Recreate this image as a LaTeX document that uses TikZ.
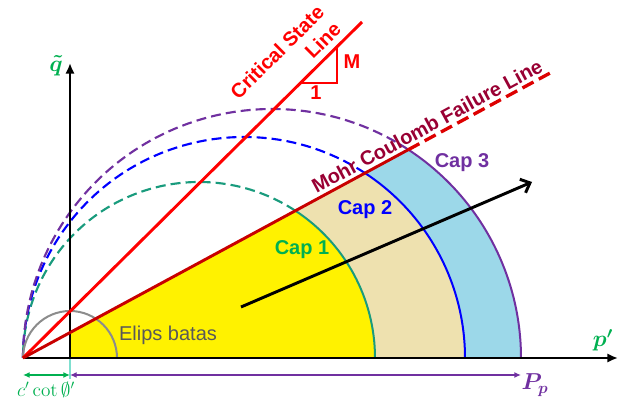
\documentclass[tikz,border=0pt]{standalone}
\usepackage{amsmath}
\usepackage[no-math]{fontspec}
\setmainfont{Liberation Sans}
\usetikzlibrary{arrows.meta,calc}
\definecolor{mygreen}{HTML}{00B050}
\definecolor{capgreen}{HTML}{199B7D}
\definecolor{myblue}{HTML}{0000FF}
\definecolor{mypurple}{HTML}{7030A0}
\definecolor{mymaroon}{HTML}{990033}
\definecolor{mcred}{HTML}{C80000}
\definecolor{mcdash}{HTML}{DD0000}
\definecolor{myred}{HTML}{FF0000}
\definecolor{yellowfill}{HTML}{FFF200}
\definecolor{beigefill}{HTML}{EEE1AF}
\definecolor{bluefill}{HTML}{9CD8E9}
\definecolor{arcgray}{HTML}{8C8C8C}
\definecolor{textgray}{HTML}{595959}
\definecolor{turq}{HTML}{7FDFCF}
\begin{document}
\begin{tikzpicture}[x=0.75pt,y=0.75pt,
  lbl/.style={font=\fontsize{15}{18}\selectfont\bfseries, inner sep=0pt},
  mlbl/.style={font=\fontsize{17.28}{20}\selectfont, inner sep=0pt},
  slbl/.style={font=\fontsize{14.4}{17}\selectfont, inner sep=0pt},
  capsolid/.style={line width=1.5pt},
  capdash/.style={line width=1.6pt, dash pattern=on 7.5pt off 3.8pt},
  axis/.style={line width=2.2pt, -{Latex[length=8pt,width=7pt]}},
  dim/.style={line width=1.1pt, {Latex[length=5pt,width=4.5pt]}-{Latex[length=5pt,width=4.5pt]}}]
\useasboundingbox (0,0) rectangle (625,401);
% key points
\coordinate (O) at (23,43);
\coordinate (Q0) at (70,43);
\coordinate (Qm) at (70,68.4);
\coordinate (C1) at (199,43);
\coordinate (C2) at (244,43);
\coordinate (C3) at (272,43);
\coordinate (P1) at ($(C1)+(56.8:176)$);
\coordinate (P2) at ($(C2)+(56.8:221)$);
\coordinate (P3) at ($(C3)+(56.8:249)$);
\coordinate (R1) at (375,43);
\coordinate (R2) at (465,43);
\coordinate (R3) at (521,43);
% fills
\fill[yellowfill] (Q0) -- (Qm) -- (P1) arc[start angle=56.8,end angle=0,radius=176] -- cycle;
\fill[beigefill] (P1) -- (P2) arc[start angle=56.8,end angle=0,radius=221] -- (R1) arc[start angle=0,end angle=56.8,radius=176] -- cycle;
\fill[bluefill] (P2) -- (P3) arc[start angle=56.8,end angle=0,radius=249] -- (R2) arc[start angle=0,end angle=56.8,radius=221] -- cycle;
% caps
\draw[capsolid,capgreen] (R1) arc[start angle=0,end angle=56.8,radius=176];
\draw[capdash,capgreen] (P1) arc[start angle=56.8,end angle=180,radius=176];
\draw[capsolid,myblue] (R2) arc[start angle=0,end angle=56.8,radius=221];
\draw[capdash,myblue] (P2) arc[start angle=56.8,end angle=180,radius=221];
\draw[capsolid,mypurple] (R3) arc[start angle=0,end angle=56.8,radius=249];
\draw[capdash,mypurple] (P3) arc[start angle=56.8,end angle=180,radius=249];
% elips batas
\draw[arcgray,line width=1.5pt] (O) arc[start angle=180,end angle=0,radius=47];
% axes
\coordinate (PX) at (618,43);
\coordinate (QY) at (70,338);
\coordinate (Qlow) at (70,22);
\draw[turq,line width=1.2pt] (Q0) -- (Qlow);
\draw[axis] (O) -- (PX);
\draw[axis] (Q0) -- (QY);
% critical state line
\coordinate (CSLend) at (362,379);
\draw[myred,line width=2.2pt] (O) -- (CSLend);
\coordinate (T1) at (302,318);
\coordinate (T2) at (337,318);
\coordinate (T3) at (337,354);
\draw[myred,line width=0.8pt] (T1) -- (T2) -- (T3);
% Mohr Coulomb
\coordinate (MCend) at (552,329);
\draw[mcred,line width=2.2pt] (O) -- (P3);
\draw[mcdash,line width=2.5pt,dash pattern=on 9.4pt off 4.5pt] (P3) -- (MCend);
% stress path arrow
\coordinate (A0) at (241,94);
\coordinate (A1) at (532,219);
\draw[line width=2.2pt,-{Straight Barb[length=6pt,width=11pt]}] (A0) -- (A1);
% dimension arrows
\coordinate (D0) at (23,26);
\coordinate (D1) at (70,26);
\coordinate (D2) at (521,26);
\draw[dim,mygreen] (D0) -- (D1);
\draw[dim,mypurple] (D1) -- (D2);
% labels
\node[mlbl,text=mygreen] (qlab) at (56,335) {$\boldsymbol{\tilde{q}}$};
\node[mlbl,text=mygreen] (plab) at (603,61) {$\boldsymbol{p'}$};
\node[mlbl,text=mypurple] (Pplab) at (535,16) {$\boldsymbol{P_p}$};
\node[slbl,text=mygreen] (clab) at (46,11) {$c'\cot\emptyset'$};
\node[font=\fontsize{15}{18}\selectfont, inner sep=0pt, text=textgray] (elab) at (168,66) {Elips batas};
\node[lbl,text=mygreen] (cap1) at (302,151) {Cap 1};
\node[lbl,text=myblue] (cap2) at (365,191) {Cap 2};
\node[lbl,text=mypurple] (cap3) at (462,238) {Cap 3};
\node[lbl,text=myred] (Mlab) at (352,339) {M};
\node[lbl,text=myred] (onelab) at (316,308) {1};
\node[lbl,text=mymaroon,rotate=28.4] (mclab) at (427,275) {Mohr Coulomb Failure Line};
\node[lbl,text=myred,rotate=44.8,align=right] (csllab) at (285.5,340.5) {Critical State\\Line};
\end{tikzpicture}
\end{document}
